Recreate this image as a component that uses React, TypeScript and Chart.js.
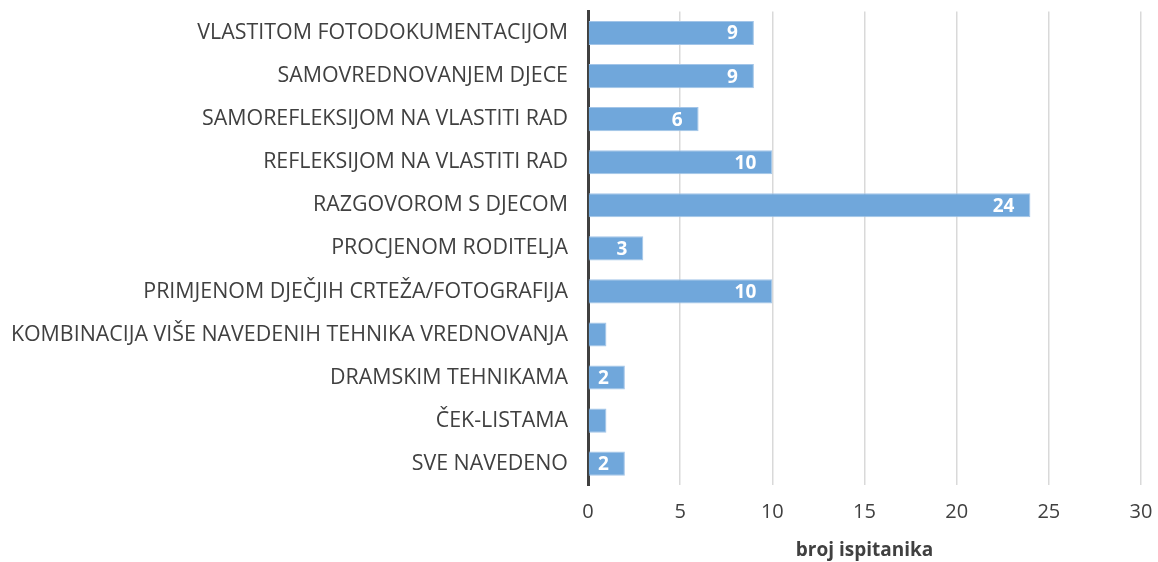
import React, { useEffect, useRef } from "react";
import { Chart, registerables } from "chart.js";

Chart.register(...registerables);

const categories = [
  "VLASTITOM FOTODOKUMENTACIJOM",
  "SAMOVREDNOVANJEM DJECE",
  "SAMOREFLEKSIJOM NA VLASTITI RAD",
  "REFLEKSIJOM NA VLASTITI RAD",
  "RAZGOVOROM S DJECOM",
  "PROCJENOM RODITELJA",
  "PRIMJENOM DJEČJIH CRTEŽA/FOTOGRAFIJA",
  "KOMBINACIJA VIŠE NAVEDENIH TEHNIKA VREDNOVANJA",
  "DRAMSKIM TEHNIKAMA",
  "ČEK-LISTAMA",
  "SVE NAVEDENO",
];
const values = [9, 9, 6, 10, 24, 3, 10, 1, 2, 1, 2];
const xTitle = "broj ispitanika";

const FONT = "'Open Sans', sans-serif";

const valueLabels = {
  id: "valueLabels",
  afterDatasetsDraw(chart: any) {
    const ctx = chart.ctx;
    const meta = chart.getDatasetMeta(0);
    ctx.save();
    ctx.font = `bold 19px ${FONT}`;
    ctx.fillStyle = "#ffffff";
    ctx.textAlign = "right";
    ctx.textBaseline = "middle";
    meta.data.forEach((bar: any, i: number) => {
      const v = values[i];
      if (v < 2) return;
      const txt = String(v);
      const w = ctx.measureText(txt).width;
      let right = bar.x - 16;
      if (right - w < bar.base + 8) right = bar.base + 8 + w;
      ctx.fillText(txt, right, bar.y + 1);
    });
    ctx.restore();
  },
};

export default function App() {
  const ref = useRef<HTMLCanvasElement | null>(null);
  useEffect(() => {
    document.body.style.margin = "0";
    const chart = new Chart(ref.current!, {
      type: "bar",
      data: {
        labels: categories,
        datasets: [
          {
            data: values,
            backgroundColor: "#70a7db",
            borderColor: "#a3c5e8",
            borderWidth: 1,
            categoryPercentage: 0.56,
            barPercentage: 1,
          },
        ],
      },
      options: {
        indexAxis: "y",
        animation: false,
        responsive: false,
        layout: { padding: { top: 11.5, right: 17, bottom: 0, left: 0 } },
        plugins: { legend: { display: false }, tooltip: { enabled: false } },
        scales: {
          x: {
            min: 0,
            max: 30,
            afterFit: (scale: any) => {
              scale.paddingLeft = 0;
              scale.paddingRight = 0;
            },
            ticks: { stepSize: 5, color: "#404040", font: { family: FONT, size: 20 }, padding: 15 },
            grid: { color: "#d9d9d9", lineWidth: 1.5, drawTicks: false },
            border: { display: false },
            title: {
              display: true,
              text: xTitle,
              color: "#404040",
              font: { family: FONT, size: 19, weight: "bold" },
              padding: { top: 0, bottom: 0 },
            },
          },
          y: {
            afterFit: (scale: any) => {
              scale.width = 588;
              scale.paddingTop = 0;
              scale.paddingBottom = 0;
            },
            ticks: { color: "#404040", font: { family: FONT, size: 21.4 }, padding: 20, autoSkip: false },
            grid: { display: false, drawTicks: false },
            border: { display: true, color: "#404040", width: 3 },
          },
        },
      },
      plugins: [valueLabels],
    });
    return () => chart.destroy();
  }, []);
  return <canvas ref={ref} width={1158} height={562} style={{ display: "block" }} />;
}
